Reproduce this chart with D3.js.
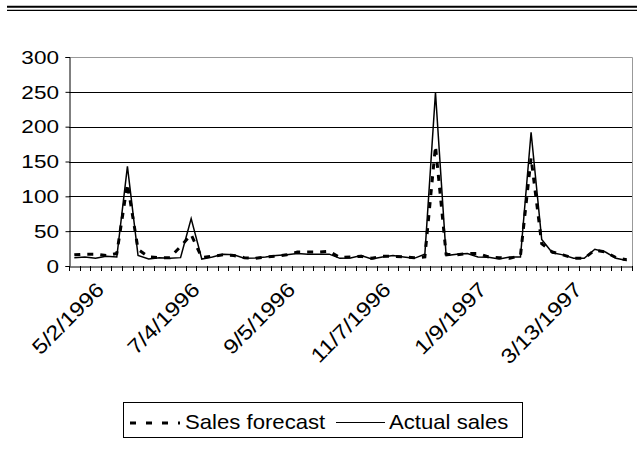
<!DOCTYPE html>
<html><head><meta charset="utf-8">
<script src="https://cdn.jsdelivr.net/npm/d3@7"></script>
<style>body{margin:0;background:#fff} svg text{font-family:"Liberation Sans",Arial,sans-serif;fill:#000}</style>
</head><body><svg id="c" width="637" height="466"></svg>
<script>
const dates = ["5/2/1996","5/9/1996","5/16/1996","5/23/1996","5/30/1996","6/6/1996","6/13/1996","6/20/1996","6/27/1996","7/4/1996","7/11/1996","7/18/1996","7/25/1996","8/1/1996","8/8/1996","8/15/1996","8/22/1996","8/29/1996","9/5/1996","9/12/1996","9/19/1996","9/26/1996","10/3/1996","10/10/1996","10/17/1996","10/24/1996","10/31/1996","11/7/1996","11/14/1996","11/21/1996","11/28/1996","12/5/1996","12/12/1996","12/19/1996","12/26/1996","1/2/1997","1/9/1997","1/16/1997","1/23/1997","1/30/1997","2/6/1997","2/13/1997","2/20/1997","2/27/1997","3/6/1997","3/13/1997","3/20/1997","3/27/1997","4/3/1997","4/10/1997","4/17/1997","4/24/1997","5/1/1997"];
const actualSales = [12,13,11,14,13,143,15,10,12,11,12,68,10,13,17,16,11,11.5,13,15,16,18,17,17,17,11,11.5,15,10,13,15,13,11,17,249,15,17,18,13,12.5,10,13,13,192,38,19,16,11,11,24,20,11,8];
const salesForecast = [16,17,17,15,18,118,24,13,12,12,28,45,12,14,16,15,12,11,13,14,16,20,20,20,21,12,13,14,11,14,14,13,12,13,172,17,16,18,18,13,12,11,15,155,32,20,16,11,11,23,20,12,9];
const xTickLabels = ["5/2/1996","7/4/1996","9/5/1996","11/7/1996","1/9/1997","3/13/1997"];
const yTicks = [0,50,100,150,200,250,300];
const seriesNames = ["Sales forecast","Actual sales"];

const svg = d3.select("#c");
const L=69, R=632, T=57, B=266;
const x = d3.scaleBand().domain(dates).range([L,R]);
const y = d3.scaleLinear().domain([0,300]).range([B,T]);
const cx = d => x(d)+x.bandwidth()/2;

// top double rule
svg.append("line").attr("x1",7).attr("x2",637).attr("y1",6.7).attr("y2",6.7).attr("stroke","#000").attr("stroke-width",2);
svg.append("line").attr("x1",7).attr("x2",637).attr("y1",10.3).attr("y2",10.3).attr("stroke","#000").attr("stroke-width",1.2);

// gridlines
svg.append("g").selectAll("line").data(yTicks.filter(v=>v>0&&v<300)).join("line")
  .attr("x1",L).attr("x2",R).attr("y1",d=>Math.round(y(d))+0.5).attr("y2",d=>Math.round(y(d))+0.5)
  .attr("stroke","#000").attr("stroke-width",1);
// plot border top/right
svg.append("path").attr("d",`M${L},${T+0.5}H${R+0.5}V${B}`).attr("fill","none").attr("stroke","#999").attr("stroke-width",1);

// y axis
const yAx = svg.append("g").attr("transform",`translate(${L+0.5},0)`)
  .call(d3.axisLeft(y).tickValues(yTicks).tickSize(4).tickFormat(""));
yAx.select(".domain").attr("stroke","#000");
yAx.selectAll(".tick line").attr("stroke","#000");
svg.append("g").selectAll("text").data(yTicks).join("text")
  .attr("transform",d=>`translate(59,${y(d)}) scale(1.22,1)`)
  .attr("dy","0.36em").attr("text-anchor","end").style("font-size","18.5px").text(d=>d);

// x axis
const xAx = svg.append("g").attr("transform",`translate(0,${B+0.5})`)
  .call(d3.axisBottom(x).tickSize(0).tickFormat(""));
xAx.select(".domain").attr("stroke","#000");
const bounds = dates.map(d=>x(d)).concat([R]);
svg.append("g").selectAll("line").data(bounds).join("line")
  .attr("x1",d=>Math.round(d)+0.5).attr("x2",d=>Math.round(d)+0.5).attr("y1",B).attr("y2",B+5)
  .attr("stroke","#000");
svg.append("g").selectAll("text").data(xTickLabels).join("text")
  .attr("transform",d=>`translate(${cx(d)+31},${291}) rotate(-45) scale(1.15,1)`)
  .attr("text-anchor","end").style("font-size","20.5px").text(d=>d);

// lines
const line = d3.line().x((v,i)=>cx(dates[i])).y(v=>y(v));
svg.append("path").datum(actualSales).attr("d",line).attr("fill","none").attr("stroke","#000").attr("stroke-width",1.5);
svg.append("path").datum(salesForecast).attr("d",line).attr("fill","none").attr("stroke","#000").attr("stroke-width",3).attr("stroke-dasharray","6,7");

// legend
const lg = svg.append("g");
lg.append("rect").attr("x",123.5).attr("y",402.5).attr("width",399).attr("height",35).attr("fill","#fff").attr("stroke","#000").attr("stroke-width",1);
lg.append("line").attr("x1",130).attr("x2",180).attr("y1",423).attr("y2",423).attr("stroke","#000").attr("stroke-width",3).attr("stroke-dasharray","6,10");
lg.append("text").attr("transform","translate(185,428.5) scale(1.08,1)").style("font-size","20.5px").text(seriesNames[0]);
lg.append("line").attr("x1",336).attr("x2",385).attr("y1",422.5).attr("y2",422.5).attr("stroke","#000").attr("stroke-width",1.2);
lg.append("text").attr("transform","translate(389,428.5) scale(1.08,1)").style("font-size","20.5px").text(seriesNames[1]);
</script></body></html>
